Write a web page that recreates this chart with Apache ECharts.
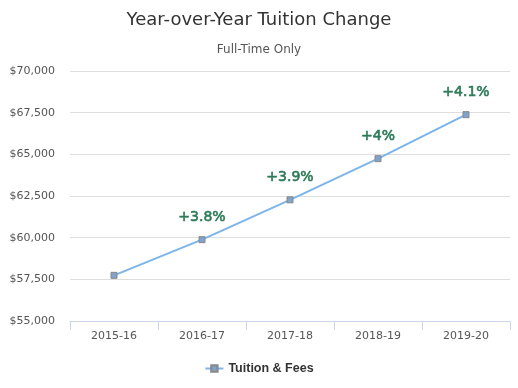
<!DOCTYPE html>
<html>
<head>
<meta charset="utf-8">
<script src="https://cdn.jsdelivr.net/npm/echarts@6/dist/echarts.min.js"></script>
<style>
html,body{margin:0;padding:0;background:#fff;}
#c{width:518px;height:388px;}
</style>
</head>
<body>
<div id="c"></div>
<script>
var categories = ['2015-16', '2016-17', '2017-18', '2018-19', '2019-20'];
var tuition = [57740, 59880, 62270, 64740, 67380];
var changeLabels = ['', '+3.8%', '+3.9%', '+4%', '+4.1%'];
var yTicks = { min: 55000, max: 70000, interval: 2500 };

var chart = echarts.init(document.getElementById('c'));
chart.setOption({
  backgroundColor: '#ffffff',
  animation: false,
  title: [
    { text: 'Year-over-Year Tuition Change', left: 'center', top: 6,
      textStyle: { fontFamily: 'DejaVu Sans', fontSize: 18, fontWeight: 'normal', color: '#333333' } },
    { text: 'Full-Time Only', left: 'center', top: 39,
      textStyle: { fontFamily: 'DejaVu Sans', fontSize: 12, fontWeight: 'normal', color: '#555555' } }
  ],
  legend: {
    bottom: 8, left: 'center',
    itemWidth: 18, itemHeight: 8, itemGap: 10,
    textStyle: { fontFamily: 'Liberation Sans', fontSize: 12.5, fontWeight: 'bold', color: '#333333' },
    data: ['Tuition & Fees']
  },
  grid: { left: 70, right: 8, top: 71, bottom: 67, containLabel: false },
  xAxis: {
    type: 'category',
    data: categories,
    boundaryGap: true,
    axisLine: { lineStyle: { color: '#ccd6eb' } },
    axisTick: { show: true, length: 9, alignWithLabel: false, lineStyle: { color: '#ccd6eb' } },
    axisLabel: { fontFamily: 'DejaVu Sans', fontSize: 11, color: '#555555', margin: 10 },
    splitLine: { show: false }
  },
  yAxis: {
    type: 'value',
    min: yTicks.min, max: yTicks.max, interval: yTicks.interval,
    axisLine: { show: false },
    axisTick: { show: false },
    axisLabel: {
      fontFamily: 'DejaVu Sans', fontSize: 11, color: '#555555', margin: 15,
      formatter: function (v) { return '$' + v.toLocaleString('en-US'); }
    },
    splitLine: { lineStyle: { color: '#dedede', width: 1 } }
  },
  series: [{
    name: 'Tuition & Fees',
    type: 'line',
    data: tuition,
    symbol: 'rect',
    symbolSize: 6,
    lineStyle: { color: '#7cb5ec', width: 2 },
    itemStyle: { color: '#7fa3cc', borderColor: '#888888', borderWidth: 1 },
    label: {
      show: true,
      position: 'top',
      distance: 12,
      fontFamily: 'DejaVu Sans',
      fontSize: 14,
      fontWeight: 'normal',
      color: '#2c7a57',
      textBorderColor: '#2c7a57',
      textBorderWidth: 0.6,
      formatter: function (p) { return changeLabels[p.dataIndex]; }
    }
  }]
});
</script>
</body>
</html>
